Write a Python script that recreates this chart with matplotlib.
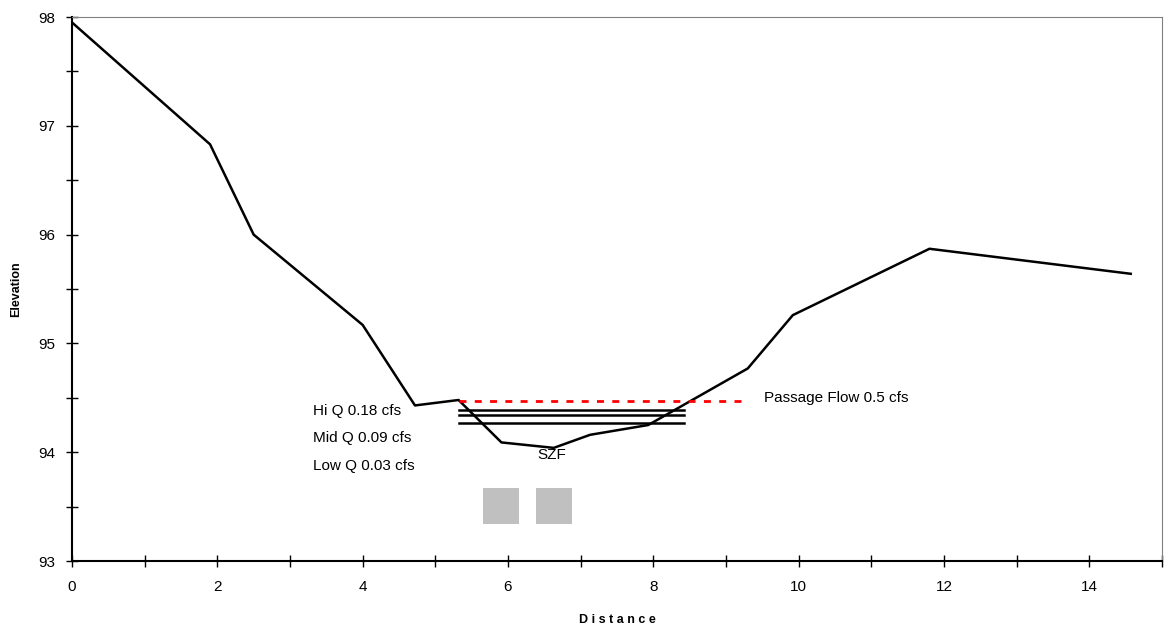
import matplotlib.pyplot as plt
from matplotlib.ticker import MultipleLocator

plt.rcParams['font.family'] = ['Liberation Sans', 'DejaVu Sans']

# channel cross section
distance = [0, 1.9, 2.5, 4.0, 4.72, 5.32, 5.91, 6.63, 7.13, 7.93, 9.3, 9.92, 11.8, 14.57]
elevation = [97.95, 96.83, 96.0, 95.17, 94.43, 94.48, 94.09, 94.04, 94.16, 94.25, 94.77, 95.26, 95.87, 95.64]

# water surface lines (hi, mid, low)
wse_x = [5.32, 8.42]
wse_levels = [94.39, 94.34, 94.27]
flow_labels = ['Hi Q 0.18 cfs', 'Mid Q 0.09 cfs', 'Low Q 0.03 cfs']
label_y = [94.38, 94.13, 93.87]

# passage flow line
passage_x = [5.32, 9.31]
passage_level = 94.47

# gray boxes
box_x = [5.91, 6.64]
box_y = [93.51, 93.51]

fig = plt.figure(figsize=(11.65, 6.35), dpi=100)
ax = fig.add_axes([0.0618, 0.1165, 0.9356, 0.8567])

ax.plot(distance, elevation, color='black', lw=1.8)
for lvl in wse_levels:
    ax.plot(wse_x, [lvl, lvl], color='black', lw=1.8)
ax.plot(passage_x, [passage_level, passage_level], color='red', lw=2, linestyle=(0, (2.5, 3)))

ax.scatter(box_x, box_y, marker='s', s=700, color='#c0c0c0', linewidths=0)

for lab, yy in zip(flow_labels, label_y):
    ax.text(3.32, yy, lab, fontsize=11, va='center', ha='left')
ax.text(6.6, 93.97, 'SZF', fontsize=11, va='center', ha='center')
ax.text(9.53, passage_level + 0.03, 'Passage Flow 0.5 cfs', fontsize=11, va='center', ha='left')

ax.set_xlim(0, 15)
ax.set_ylim(93, 98)
ax.xaxis.set_major_locator(MultipleLocator(2))
ax.xaxis.set_minor_locator(MultipleLocator(1))
ax.yaxis.set_major_locator(MultipleLocator(1))
ax.yaxis.set_minor_locator(MultipleLocator(0.5))
ax.tick_params(which='both', direction='inout', length=8, width=1, labelsize=11)
ax.tick_params(axis='x', pad=10)
ax.tick_params(axis='y', pad=8)

ax.spines['top'].set_color('#808080')
ax.spines['right'].set_color('#808080')
ax.spines['left'].set_linewidth(1.5)
ax.spines['bottom'].set_linewidth(1.5)

ax.set_xlabel('D i s t a n c e', fontsize=9, fontweight='bold', labelpad=14)
ax.set_ylabel('Elevation', fontsize=9, fontweight='bold', labelpad=12)

plt.savefig('out.png')
